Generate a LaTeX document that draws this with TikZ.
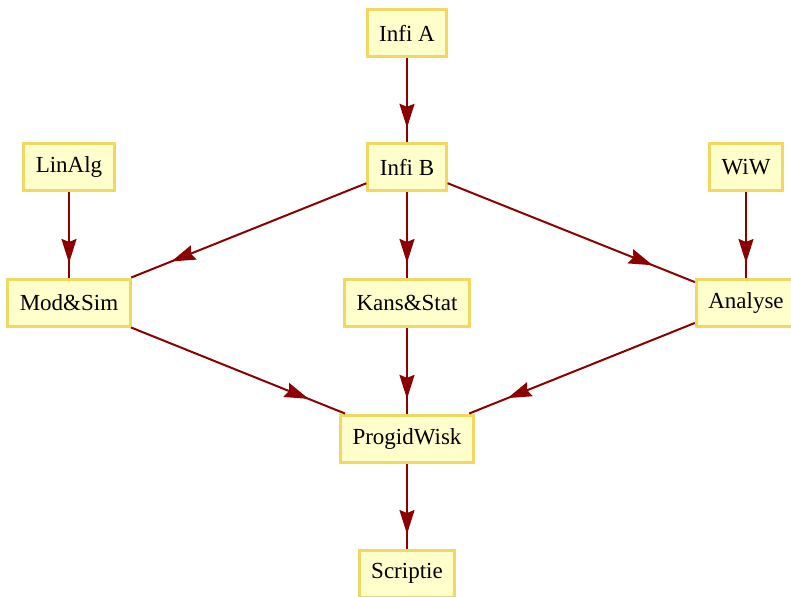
\documentclass[tikz,border=0pt]{standalone}
\usepackage{fontspec}
\setmainfont{Liberation Serif}
\usetikzlibrary{arrows.meta,decorations.markings}
\definecolor{boxfill}{HTML}{FFFFCC}
\definecolor{boxline}{HTML}{F0D862}
\definecolor{edgecol}{HTML}{8B0000}
\tikzset{
  course/.style={draw=boxline, fill=boxfill, line width=3pt, rectangle,
    minimum height=47pt, inner xsep=12pt, inner ysep=0pt,
    font=\fontsize{23}{27}\selectfont},
  link/.style={draw=edgecol, line width=2pt,
    postaction={decorate},
    decoration={markings, mark=at position 0.83 with {\arrow[edgecol]{Stealth[length=24pt,width=15pt,inset=3pt]}}}}
}
\begin{document}
\begin{tikzpicture}[x=1pt,y=-1pt]
\useasboundingbox (0,0) rectangle (791,596);
\node[course] (infia) at (407,33.5) {Infi A};
\node[course] (infib) at (407,167) {Infi B};
\node[course] (linalg) at (69,167) {LinAlg};
\node[course] (wiw) at (746,167) {WiW};
\node[course] (modsim) at (69,302.5) {Mod\&Sim};
\node[course] (kans) at (407,302.5) {Kans\&Stat};
\node[course] (analyse) at (746,302.5) {Analyse};
\node[course] (progid) at (407,438.5) {ProgidWisk};
\node[course] (scriptie) at (407,573.5) {Scriptie};
\draw[link] (infia) -- (infib);
\draw[link] (infib) -- (modsim);
\draw[link] (infib) -- (kans);
\draw[link] (infib) -- (analyse);
\draw[link] (linalg) -- (modsim);
\draw[link] (wiw) -- (analyse);
\draw[link] (modsim) -- (progid);
\draw[link] (kans) -- (progid);
\draw[link] (analyse) -- (progid);
\draw[link] (progid) -- (scriptie);
\end{tikzpicture}
\end{document}
